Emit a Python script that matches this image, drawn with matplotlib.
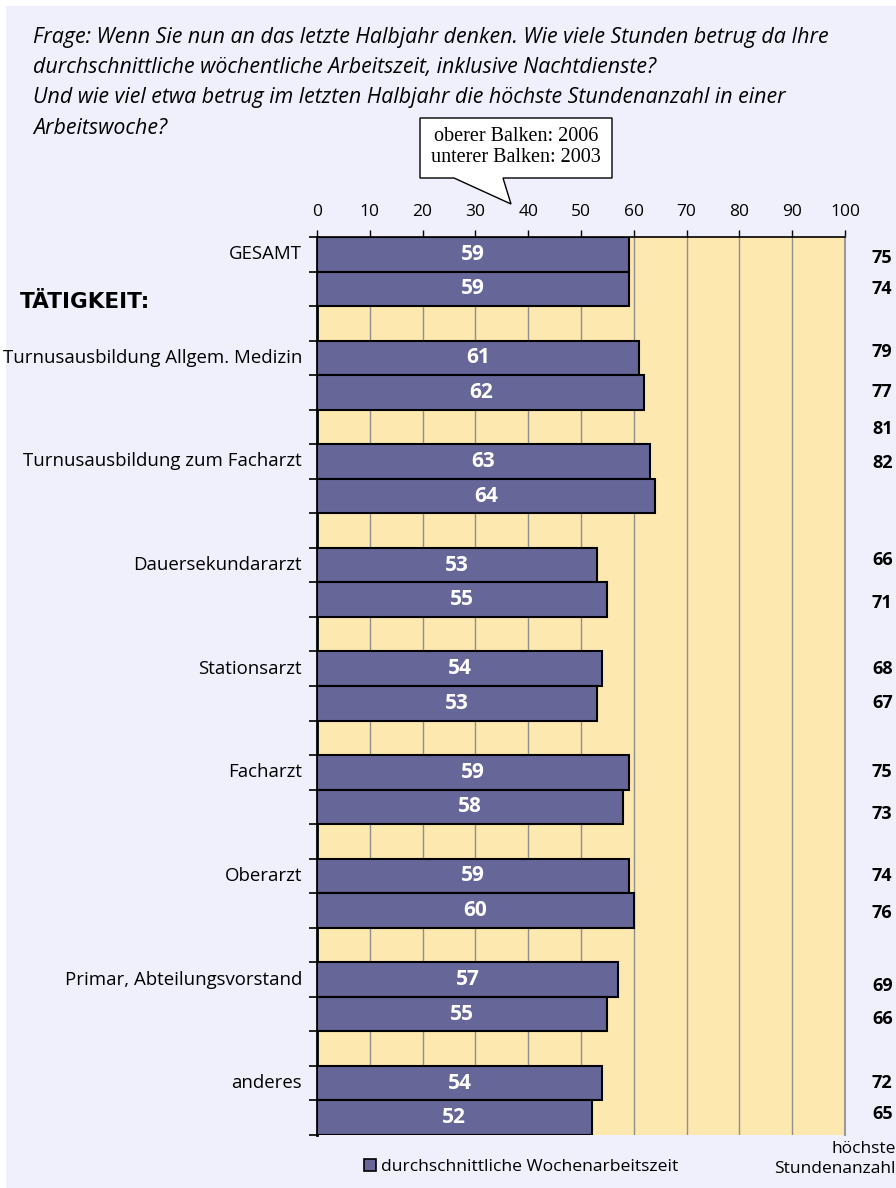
import matplotlib
matplotlib.use("Agg")
import matplotlib.pyplot as plt
from matplotlib.patches import Rectangle, Polygon, Patch

# ---------------- data ----------------
categories = ["GESAMT", "Turnusausbildung Allgem. Medizin", "Turnusausbildung zum Facharzt",
              "Dauersekundararzt", "Stationsarzt", "Facharzt", "Oberarzt",
              "Primar, Abteilungsvorstand", "anderes"]
avg_2006 = [59, 61, 63, 53, 54, 59, 59, 57, 54]
avg_2003 = [59, 62, 64, 55, 53, 58, 60, 55, 52]
max_2006 = [75, 79, 81, 66, 68, 75, 74, 69, 72]
max_2003 = [74, 77, 82, 71, 67, 73, 76, 66, 65]
x_ticks = [0, 10, 20, 30, 40, 50, 60, 70, 80, 90, 100]

title_lines = ["Frage: Wenn Sie nun an das letzte Halbjahr denken. Wie viele Stunden betrug da Ihre",
               "durchschnittliche wöchentliche Arbeitszeit, inklusive Nachtdienste?",
               "Und wie viel etwa betrug im letzten Halbjahr die höchste Stundenanzahl in einer",
               "Arbeitswoche?"]
legend_label = "durchschnittliche Wochenarbeitszeit"
max_label = "höchste\nStundenanzahl"
callout_text = "oberer Balken: 2006\nunterer Balken: 2003"
section_label = "TÄTIGKEIT:"

# layout-only: vertical shift (in bar slots) of the right-hand labels as placed in the original
max_2006_shift = [0.1, -0.17, -0.95, -0.14, 0.0, 0.0, 0.0, 0.18, 0.0]
max_2003_shift = [0.0, 0.0, -0.95, 0.1, 0.0, 0.2, 0.07, 0.14, -0.1]

# ---------------- style ----------------
BAR = "#666699"
YELLOW = "#FDE8B0"
LAVENDER = "#F0F0FD"
W, H = 896, 1188
FONT = ["Open Sans", "DejaVu Sans"]
plt.rcParams["font.family"] = FONT

fig = plt.figure(figsize=(W / 100, H / 100), dpi=100, facecolor="white")

def fx(px):
    return px / W

def fy(py):
    return 1 - py / H

# lavender background with white margin left/top
fig.patches.append(Rectangle((fx(6), -0.01), 1.01 - fx(6), fy(6) + 0.01, transform=fig.transFigure,
                             facecolor=LAVENDER, edgecolor="none", zorder=-10))

ax_l, ax_r, ax_t, ax_b = 317, 845, 237, 1135
ax = fig.add_axes([fx(ax_l), fy(ax_b), fx(ax_r - ax_l), (ax_b - ax_t) / H])
ax.set_facecolor(YELLOW)

n = len(categories)
nslots = 3 * n - 1
top_pos = [3 * i + 0.5 for i in range(n)]
bot_pos = [3 * i + 1.5 for i in range(n)]

ax.set_axisbelow(True)
b1 = ax.barh(top_pos, avg_2006, height=1.0, color=BAR, edgecolor="black", linewidth=1.5, zorder=3)
b2 = ax.barh(bot_pos, avg_2003, height=1.0, color=BAR, edgecolor="black", linewidth=1.5, zorder=3)

ax.set_xlim(0, 100)
ax.set_ylim(nslots, 0)

for bars, vals in ((b1, avg_2006), (b2, avg_2003)):
    ax.bar_label(bars, labels=[str(v) for v in vals], label_type="center", color="white",
                 fontsize=15, fontweight="bold", zorder=4)

# grid
for x in x_ticks[1:-1]:
    ax.axvline(x, color="#8f8f8f", lw=1.0, zorder=1)

# spines
ax.spines["bottom"].set_visible(False)
ax.spines["right"].set_color("#9a9a9a")
ax.spines["right"].set_linewidth(1.5)
ax.spines["top"].set_color("black")
ax.spines["top"].set_linewidth(1.2)
ax.spines["left"].set_color("black")
ax.spines["left"].set_linewidth(2.0)

ax.xaxis.tick_top()
ax.set_xticks(x_ticks)
ax.set_xticklabels([str(t) for t in x_ticks])
ax.tick_params(axis="x", direction="out", length=5, width=1, pad=7, labelsize=12.5, colors="black")
ax.set_yticks(range(nslots + 1))
ax.set_yticklabels([])
ax.tick_params(axis="y", direction="out", length=6, width=1.2)

# category labels
for i, cat in enumerate(categories):
    ax.annotate(cat, xy=(0, top_pos[i]), xycoords="data", xytext=(-15, 0),
                textcoords="offset pixels", ha="right", va="center", fontsize=13.4)

# right-hand labels (max hours)
for i in range(n):
    ax.annotate(str(max_2006[i]), xy=(100, top_pos[i] + max_2006_shift[i]), xycoords="data",
                xytext=(27, 0), textcoords="offset pixels", ha="left", va="center",
                fontsize=13, fontweight="bold", annotation_clip=False)
    ax.annotate(str(max_2003[i]), xy=(100, bot_pos[i] + max_2003_shift[i]), xycoords="data",
                xytext=(27, 0), textcoords="offset pixels", ha="left", va="center",
                fontsize=13, fontweight="bold", annotation_clip=False)

# section label
fig.text(fx(20), fy(302), section_label, ha="left", va="center", fontsize=15.5,
         fontweight="bold", family=["DejaVu Sans"])

# title
for k, line in enumerate(title_lines):
    fig.text(fx(33), fy(37 + 30.5 * k), line, ha="left", va="center", fontsize=15.4,
             style="italic")

# callout box
pts = [(420, 118), (612, 118), (612, 178), (503, 178), (511, 204), (454, 178), (420, 178)]
fig.patches.append(Polygon([(fx(x), fy(y)) for x, y in pts], closed=True,
                           transform=fig.transFigure, facecolor="white",
                           edgecolor="black", linewidth=1.0, zorder=5))
fig.text(fx(516), fy(147), callout_text, ha="center", va="center", fontsize=14.5,
         family=["Liberation Serif", "DejaVu Serif"], linespacing=1.2, zorder=6)

# legend
fig.legend(handles=[Patch(facecolor=BAR, edgecolor="black", linewidth=1.2, label=legend_label)],
           loc="center", bbox_to_anchor=(fx(521), fy(1167)), frameon=False, fontsize=12.6,
           handlelength=0.7, handleheight=0.7, handletextpad=0.25, borderpad=0)

fig.text(fx(896), fy(1159), max_label, ha="right", va="center", fontsize=12.5,
         multialignment="right", linespacing=1.35)

fig.savefig("out.png", dpi=100, facecolor=fig.get_facecolor())
